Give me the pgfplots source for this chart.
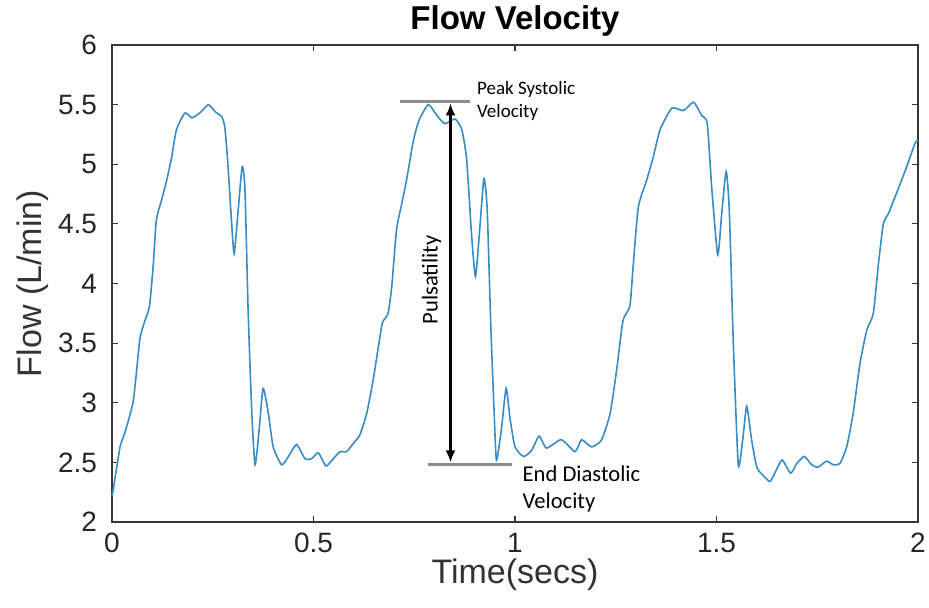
\documentclass[border=0pt]{standalone}
\usepackage{pgfplots}
\pgfplotsset{compat=1.18}
\usetikzlibrary{arrows.meta}
\usepackage{fontspec}
\setmainfont{Liberation Sans}
\newfontfamily\calibri{Carlito}
\definecolor{mblue}{RGB}{55,140,198}
\definecolor{axgray}{RGB}{55,55,55}
\definecolor{anngray}{RGB}{140,140,140}
\begin{document}
\begin{tikzpicture}
\begin{axis}[
  scale only axis=true,
  width=403pt, height=238.5pt,
  xmin=0, xmax=2, ymin=2, ymax=6,
  xtick={0,0.5,1,1.5,2},
  ytick={2,2.5,3,3.5,4,4.5,5,5.5,6},
  xticklabels={0,0.5,1,1.5,2},
  yticklabels={2,2.5,3,3.5,4,4.5,5,5.5,6},
  tick pos=both, tick align=inside,
  major tick length=3pt,
  axis line style={axgray, line width=0.7pt},
  every tick/.style={axgray, line width=0.6pt},
  tick label style={font=\fontsize{14}{14}\selectfont, text=black!85},
  xticklabel style={yshift=-2pt},
  yticklabel style={xshift=-4pt},
  /pgf/number format/assume math mode=true,
  title={\bfseries Flow Velocity},
  title style={font=\fontsize{16.5}{17}\selectfont, yshift=-5pt},
  xlabel={Time(secs)},
  ylabel={Flow (L/min)},
  label style={font=\fontsize{17}{17}\selectfont, text=black!80},
  xlabel style={yshift=4pt},
  ylabel style={yshift=-2pt},
  clip=false,
]
\addplot[mblue, line width=0.8pt, smooth, tension=0.35] coordinates {
(0.000,2.22) (0.003,2.27) (0.020,2.63) (0.032,2.75) (0.053,3.02) (0.069,3.53)
(0.082,3.69) (0.093,3.81) (0.102,4.14) (0.110,4.53) (0.123,4.70) (0.136,4.87)
(0.148,5.06) (0.160,5.29) (0.181,5.43) (0.198,5.39) (0.218,5.43) (0.239,5.50)
(0.256,5.44) (0.272,5.40) (0.280,5.31) (0.288,4.98) (0.297,4.50) (0.303,4.25)
(0.311,4.53) (0.323,4.98) (0.330,4.78) (0.338,3.75) (0.347,2.91) (0.355,2.48)
(0.365,2.77) (0.375,3.12) (0.388,2.91) (0.400,2.63) (0.421,2.48) (0.438,2.55)
(0.458,2.65) (0.479,2.53) (0.495,2.53) (0.512,2.58) (0.531,2.47) (0.549,2.53)
(0.566,2.59) (0.582,2.59) (0.599,2.66) (0.615,2.73) (0.632,2.91) (0.648,3.19)
(0.661,3.47) (0.671,3.67) (0.685,3.75) (0.694,3.97) (0.706,4.45) (0.719,4.67)
(0.731,4.87) (0.748,5.20) (0.762,5.37) (0.785,5.50) (0.806,5.41) (0.826,5.34)
(0.851,5.38) (0.868,5.29) (0.880,5.04) (0.892,4.42) (0.902,4.06) (0.913,4.48)
(0.923,4.88) (0.931,4.62) (0.940,3.64) (0.948,2.94) (0.954,2.52) (0.967,2.80)
(0.978,3.12) (0.988,2.86) (1.000,2.63) (1.021,2.55) (1.041,2.60) (1.060,2.72)
(1.078,2.62) (1.115,2.69) (1.149,2.59) (1.165,2.69) (1.190,2.63) (1.215,2.69)
(1.236,2.91) (1.252,3.27) (1.268,3.69) (1.285,3.81) (1.293,4.14) (1.306,4.64)
(1.327,4.87) (1.343,5.06) (1.360,5.29) (1.389,5.47) (1.418,5.45) (1.443,5.52)
(1.463,5.41) (1.477,5.34) (1.488,4.81) (1.503,4.24) (1.513,4.59) (1.524,4.94)
(1.532,4.59) (1.542,3.47) (1.554,2.48) (1.565,2.69) (1.575,2.97) (1.587,2.69)
(1.600,2.46) (1.616,2.39) (1.633,2.34) (1.649,2.44) (1.663,2.52) (1.684,2.41)
(1.699,2.49) (1.718,2.55) (1.736,2.48) (1.752,2.46) (1.773,2.51) (1.790,2.48)
(1.806,2.49) (1.823,2.63) (1.839,2.91) (1.856,3.33) (1.873,3.61) (1.889,3.75)
(1.902,4.17) (1.914,4.50) (1.927,4.59) (1.947,4.76) (1.972,4.98) (1.993,5.18)
(2.000,5.20)
};
% annotations
\draw[anngray, line width=1.5pt] (axis cs:0.715,5.53) -- (axis cs:0.888,5.53);
\draw[anngray, line width=1.5pt] (axis cs:0.784,2.48) -- (axis cs:0.992,2.48);
\draw[black, line width=1.4pt, {Latex[length=6pt,width=5pt]}-{Latex[length=6pt,width=5pt]}] (axis cs:0.840,5.51) -- (axis cs:0.840,2.50);
\node[rotate=90, font=\calibri\fontsize{11.3}{12}\selectfont] at (axis cs:0.793,4.03) {Pulsatility};
\node[anchor=west, align=left, font=\calibri\fontsize{9.5}{11.5}\selectfont, inner sep=0pt] at (axis cs:0.905,5.53) {Peak Systolic\\Velocity};
\node[anchor=west, align=left, font=\calibri\fontsize{11.3}{13.5}\selectfont, inner sep=0pt] at (axis cs:1.018,2.28) {End Diastolic\\Velocity};
\end{axis}
\pgfresetboundingbox
\path[use as bounding box] (-56pt,-42.5pt) rectangle (408.5pt,261pt);
\end{tikzpicture}
\end{document}
